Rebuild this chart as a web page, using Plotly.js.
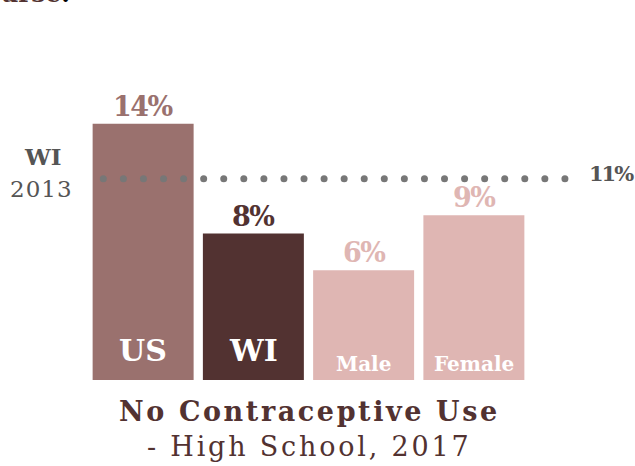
<!DOCTYPE html>
<html>
<head>
<meta charset="utf-8">
<script src="https://cdn.plot.ly/plotly-3.0.1.min.js"></script>
<style>html,body{margin:0;padding:0;background:#fff;}#chart{width:635px;height:466px;}</style>
</head>
<body>
<div id="chart"></div>
<script>
// ---- data ----
var categories = ['US', 'WI', 'Male', 'Female'];
var values = [14, 8, 6, 9];
var valueLabels = ['14%', '8%', '6%', '9%'];
var referenceValue = 11;           // WI 2013
var referenceLabel = '11%';
var referenceName = ['WI', '2013'];
var chartTitle = ['No Contraceptive Use', '- High School, 2017'];
var clippedHeading = 'arse';

// ---- styles ----
var barColors = ['#9a716e', '#523231', '#dfb6b3', '#dfb6b3'];
var innerSizes = [30, 30, 20, 20];
var innerShift = [10, 10, 2, 2];
var SERIF = '"DejaVu Serif", "Liberation Serif", serif';
var GREY = '#777777';
var TXTGREY = '#555555';
function sp(t, px) { return '<span style="letter-spacing:' + px + 'px">' + t + '</span>'; }

var bars = {
  type: 'bar',
  x: categories,
  y: values,
  marker: {color: barColors, line: {width: 0}},
  hoverinfo: 'none',
  showlegend: false
};

// dotted reference line: markers along the reference value on an overlay axis
var nDots = 24, dotX = [], dotY = [];
for (var i = 0; i < nDots; i++) { dotX.push(-0.361 + i * 0.18204); dotY.push(referenceValue); }
var dots = {
  type: 'scatter', mode: 'markers',
  x: dotX, y: dotY, xaxis: 'x2',
  marker: {size: 7, color: GREY},
  cliponaxis: false, hoverinfo: 'none', showlegend: false
};

var ann = [];
for (var k = 0; k < categories.length; k++) {
  ann.push({
    x: categories[k], y: values[k], xref: 'x', yref: 'y',
    text: '<b>' + sp(valueLabels[k], -1.5) + '</b>', showarrow: false,
    xanchor: 'center', yanchor: 'bottom', yshift: 0,
    font: {family: SERIF, size: 27, color: barColors[k]}
  });
  ann.push({
    x: categories[k], y: 0, xref: 'x', yref: 'y',
    text: '<b>' + categories[k] + '</b>', showarrow: false,
    xanchor: 'center', yanchor: 'bottom', yshift: innerShift[k],
    font: {family: SERIF, size: innerSizes[k], color: '#ffffff'}
  });
}
// reference label on the right
ann.push({
  x: 1, y: referenceValue, xref: 'paper', yref: 'y', xshift: 7,
  text: '<b>' + sp(referenceLabel, -2) + '</b>', showarrow: false,
  xanchor: 'left', yanchor: 'middle', yshift: 5,
  font: {family: SERIF, size: 21, color: TXTGREY}
});
// reference name on the left
ann.push({
  x: 0, y: referenceValue, xref: 'paper', yref: 'y', xshift: -45, yshift: 22,
  text: '<b>' + referenceName[0] + '</b>', showarrow: false,
  xanchor: 'center', yanchor: 'middle',
  font: {family: SERIF, size: 23, color: TXTGREY}
});
ann.push({
  x: 0, y: referenceValue, xref: 'paper', yref: 'y', xshift: -47, yshift: -10,
  text: sp(referenceName[1], 1), showarrow: false,
  xanchor: 'center', yanchor: 'middle',
  font: {family: SERIF, size: 23, color: TXTGREY}
});
// bottom title lines
ann.push({
  x: 0.5, y: 0, xref: 'paper', yref: 'paper', xshift: -25, yshift: -31,
  text: '<b>' + sp(chartTitle[0], 2.6) + '</b>', showarrow: false,
  xanchor: 'center', yanchor: 'middle',
  font: {family: SERIF, size: 27, color: '#523231'}
});
ann.push({
  x: 0.5, y: 0, xref: 'paper', yref: 'paper', xshift: -25, yshift: -66,
  text: sp(chartTitle[1], 2.8), showarrow: false,
  xanchor: 'center', yanchor: 'middle',
  font: {family: SERIF, size: 27, color: '#523231'}
});
// clipped heading at top-left
ann.push({
  x: 0, y: 1, xref: 'paper', yref: 'paper', xshift: -88, yshift: 4,
  text: '<b>' + clippedHeading + '<span style="color:#000000">.</span></b>', showarrow: false,
  xanchor: 'left', yanchor: 'bottom',
  font: {family: SERIF, size: 25, color: '#523231'}
});

var layout = {
  width: 635, height: 466,
  margin: {l: 88, r: 55, t: 14, b: 86, pad: 0},
  paper_bgcolor: '#ffffff', plot_bgcolor: '#ffffff',
  bargap: 0.084,
  xaxis: {type: 'category', range: [-0.5, 3.9626], visible: false, fixedrange: true},
  xaxis2: {overlaying: 'x', range: [-0.5, 3.9626], visible: false, fixedrange: true},
  yaxis: {range: [0, 20], visible: false, fixedrange: true},
  annotations: ann,
  showlegend: false
};

Plotly.newPlot('chart', [bars, dots], layout, {displayModeBar: false, staticPlot: true});
</script>
</body>
</html>
